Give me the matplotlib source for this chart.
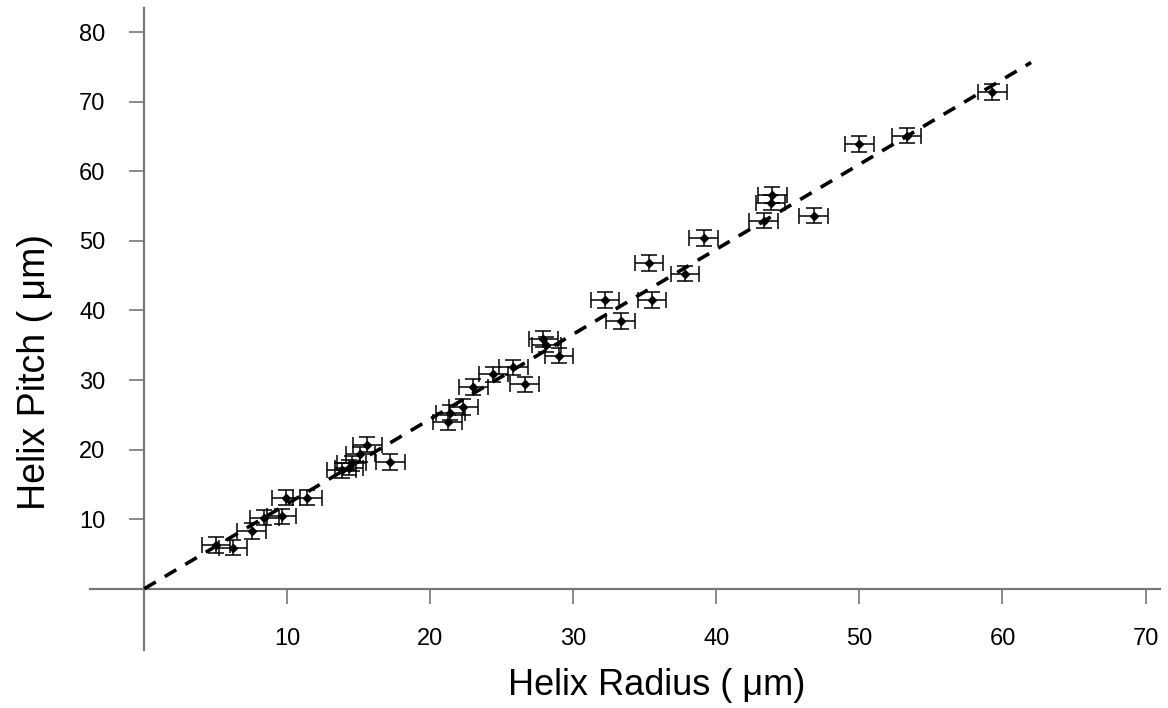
import matplotlib
matplotlib.use("Agg")
import matplotlib.pyplot as plt
import numpy as np

radius = [5.0, 6.2, 7.5, 8.4, 9.6, 9.9, 11.4, 13.8, 14.3, 14.5, 15.1, 15.6,
          17.2, 21.2, 21.4, 22.3, 23.0, 24.4, 25.8, 26.6, 27.9, 28.1, 29.0,
          32.2, 33.3, 35.3, 35.5, 37.8, 39.1, 43.3, 43.8, 43.9, 46.8, 50.0,
          53.3, 59.3]
pitch = [6.3, 5.9, 8.3, 10.2, 10.4, 13.1, 13.1, 17.0, 17.4, 18.0, 19.3, 20.7,
         18.2, 23.9, 25.3, 26.1, 29.0, 30.8, 31.8, 29.4, 35.9, 35.1, 33.5,
         41.5, 38.5, 46.8, 41.5, 45.3, 50.4, 52.9, 55.5, 56.6, 53.6, 63.9,
         65.1, 71.4]
radius_err = [1.0] * len(radius)
pitch_err = [1.1] * len(pitch)

# linear fit through origin
fit_slope = 1.22
fit_xmax = 62.0

x_ticks = [10, 20, 30, 40, 50, 60, 70]
y_ticks = [10, 20, 30, 40, 50, 60, 70, 80]

plt.rcParams['font.family'] = ['Liberation Sans', 'DejaVu Sans']

fig = plt.figure(figsize=(11.68, 7.08), dpi=100)
ax = fig.add_axes([0.077, 0.082, 0.916, 0.907])

ax.errorbar(radius, pitch, xerr=radius_err, yerr=pitch_err, fmt='D',
            color='black', ms=4.5, elinewidth=1.1, capsize=6, capthick=1.1,
            zorder=3)

fx = np.array([0.0, fit_xmax])
ax.plot(fx, fit_slope * fx, color='black', lw=2.6,
        linestyle=(0, (3.7, 2.9)), zorder=4)

ax.set_xlim(-3.8, 71.0)
ax.set_ylim(-8.8, 83.5)

# axes cross at the origin
for side in ['top', 'right']:
    ax.spines[side].set_visible(False)
ax.spines['left'].set_position(('data', 0))
ax.spines['bottom'].set_position(('data', 0))
for side in ['left', 'bottom']:
    ax.spines[side].set_color('#777777')
    ax.spines[side].set_linewidth(1.6)

ax.set_xticks(x_ticks)
ax.set_yticks(y_ticks)
ax.tick_params(axis='x', direction='out', length=11, width=1.2,
               color='#777777', pad=17, labelsize=17)
ax.tick_params(axis='y', direction='out', length=11, width=1.2,
               color='#777777', pad=17, labelsize=17)

fig.text(0.562, 0.032, "Helix Radius ( \u03bcm)", fontsize=26,
         ha='center', va='center')
fig.text(0.030, 0.475, "Helix Pitch ( \u03bcm)", fontsize=27,
         ha='center', va='center', rotation=90)

fig.savefig("out.png", dpi=100)
